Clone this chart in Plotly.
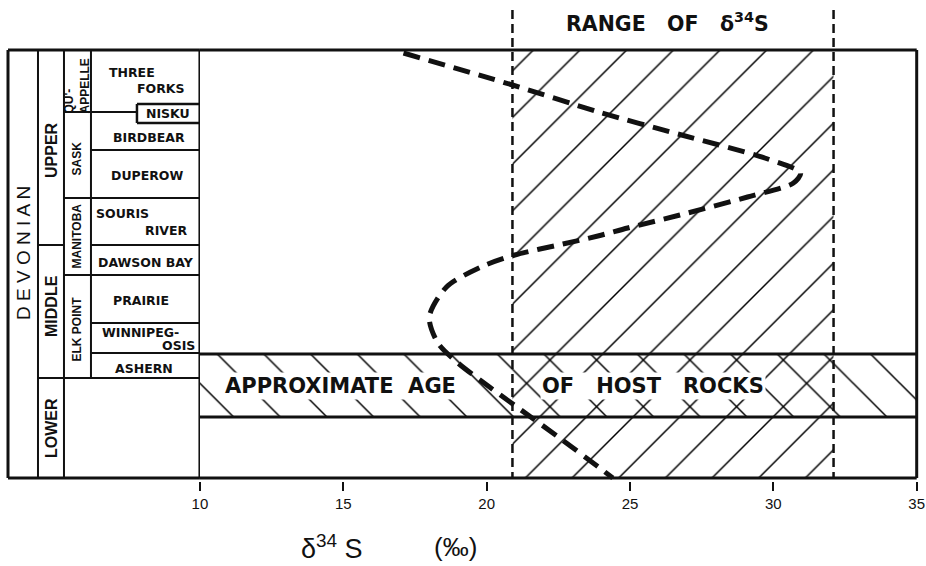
import plotly.graph_objects as go

# ---------------- data ----------------
# delta34S curve (per mil) vs. relative stratigraphic position (0 = top of column, 428 = base)
curve_d34s = [17.1, 20.9, 23.9, 26.8, 29.7, 30.95, 30.7, 29.1, 26.74, 24.92, 23.88, 22.66,
              20.98, 19.8, 18.6, 18.0, 18.3, 19.0, 20.1, 21.2, 22.5, 23.9, 24.4]
curve_pos = [3, 35, 62, 85, 108, 123, 133, 147, 165, 178, 186, 194,
             205, 217, 237, 267, 293, 313, 337, 360, 387, 417, 428]

range_d34s = [20.9, 32.1]          # range of delta34S in host rocks
age_band_pos = [304, 367]          # approximate age of host rocks (top, base)
x_ticks = [10, 15, 20, 25, 30, 35]
x_range = [10, 35]
col_top, col_base = 0, 428

# stratigraphic column
column_edges = [0, 30, 56, 83, 192]   # column boundaries (x2 units)
formations = ["THREE", "FORKS", "NISKU", "BIRDBEAR", "DUPEROW", "SOURIS", "RIVER",
              "DAWSON BAY", "PRAIRIE", "WINNIPEG-", "OSIS", "ASHERN"]
formation_x = [124.5, 152.5, 160, 141, 139, 114.5, 158.5, 138, 133, 133, 171, 136.5]
formation_y = [22, 38, 63, 87, 125, 163, 180, 212, 250, 282, 295, 318]
groups = ["QU'-<br>APPELLE", "SASK", "MANITOBA", "ELK POINT"]
group_y = [36, 108, 186, 279]
series = ["UPPER", "MIDDLE", "LOWER"]
series_y = [100, 256, 378]
system = "D E V O N I A N"
system_y = 203

BLACK = "#111111"
FONT = "Liberation Sans"
FONT_B = "DejaVu Sans"

fig = go.Figure()

# hatched range of d34S
fig.add_trace(go.Scatter(
    x=[range_d34s[0], range_d34s[1], range_d34s[1], range_d34s[0], range_d34s[0]],
    y=[col_top, col_top, col_base, col_base, col_top],
    mode="lines", line=dict(width=0), fill="toself", fillcolor="white",
    fillpattern=dict(shape="/", size=33, solidity=0.045, fgcolor="black", fgopacity=1,
                     bgcolor="white"),
    hoverinfo="skip", showlegend=False))
# hatched approximate age band
fig.add_trace(go.Scatter(
    x=[x_range[0], x_range[1], x_range[1], x_range[0], x_range[0]],
    y=[age_band_pos[0], age_band_pos[0], age_band_pos[1], age_band_pos[1], age_band_pos[0]],
    mode="lines", line=dict(width=0), fill="toself", fillcolor="rgba(255,255,255,0)",
    fillpattern=dict(shape="\\", size=33, solidity=0.045, fgcolor="black", fgopacity=1,
                     bgcolor="rgba(255,255,255,0)"),
    hoverinfo="skip", showlegend=False))
# age band borders
for yb in age_band_pos:
    fig.add_trace(go.Scatter(x=x_range, y=[yb, yb], mode="lines",
                             line=dict(color=BLACK, width=3), hoverinfo="skip", showlegend=False))
# dashed range limits
for xv in range_d34s:
    fig.add_trace(go.Scatter(x=[xv, xv], y=[-40, col_base], mode="lines",
                             line=dict(color=BLACK, width=2.5, dash="9px,5px"),
                             hoverinfo="skip", showlegend=False))
# d34S curve
fig.add_trace(go.Scatter(x=curve_d34s, y=curve_pos, mode="lines",
                         line=dict(color=BLACK, width=5, dash="17px,9px", shape="spline", smoothing=0.8),
                         hoverinfo="skip", showlegend=False))

# ---------------- frame and column lines ----------------
shapes = []
def seg(xref, x0, y0, x1, y1, w=2):
    shapes.append(dict(type="line", xref=xref, yref="y", x0=x0, y0=y0, x1=x1, y1=y1,
                       line=dict(color=BLACK, width=w), layer="above"))

# main frame
seg("x", x_range[0], col_top, x_range[1], col_top, 3)
seg("x", x_range[1], col_top, x_range[1], col_base, 3)
seg("x", x_range[0], col_base, x_range[1], col_base, 3)
# column frame
seg("x2", column_edges[0], col_top, column_edges[4], col_top, 3)
seg("x2", column_edges[0], col_base, column_edges[4], col_base, 3)
seg("x2", column_edges[0], col_top, column_edges[0], col_base, 3)
seg("x2", column_edges[4], col_top, column_edges[4], col_base, 3)
seg("x2", column_edges[1], col_top, column_edges[1], col_base)
seg("x2", column_edges[2], col_top, column_edges[2], col_base)
seg("x2", column_edges[3], col_top, column_edges[3], 328)
# horizontal boundaries
seg("x2", 56, 62, 129, 62)
seg("x2", 129, 54, 192, 54, 2.5)
seg("x2", 129, 73, 192, 73, 2.5)
seg("x2", 129, 54, 129, 73, 2.5)
seg("x2", 83, 100, 192, 100)
seg("x2", 56, 148, 192, 148)
seg("x2", 30, 195, 56, 195)
seg("x2", 83, 195, 192, 195)
seg("x2", 56, 225, 192, 225)
seg("x2", 83, 273, 192, 273)
seg("x2", 83, 303, 192, 303)
seg("x2", 30, 328, 192, 328)

# ---------------- text ----------------
ann = []
for t, xx, yy in zip(formations, formation_x, formation_y):
    ann.append(dict(xref="x2", yref="y", x=xx, y=yy, text="<b>" + t + "</b>", showarrow=False,
                    font=dict(family=FONT_B, size=12.5, color=BLACK), xanchor="center", yanchor="middle"))
for t, yy in zip(groups, group_y):
    ann.append(dict(xref="x2", yref="y", x=69.5, y=yy, text="<b>" + t + "</b>", showarrow=False,
                    textangle=-90, align="left", font=dict(family=FONT, size=12, color=BLACK)))
for t, yy in zip(series, series_y):
    ann.append(dict(xref="x2", yref="y", x=43, y=yy, text="<b>" + t + "</b>", showarrow=False,
                    textangle=-90, font=dict(family=FONT, size=16, color=BLACK)))
ann.append(dict(xref="x2", yref="y", x=15, y=system_y, text=system, showarrow=False, textangle=-90,
                font=dict(family=FONT, size=19, color=BLACK)))

ann.append(dict(xref="x", yref="y", x=14.9, y=335.5, text="<b>APPROXIMATE  AGE</b>", showarrow=False,
                bgcolor="white", borderpad=1, font=dict(family=FONT_B, size=21, color=BLACK)))
ann.append(dict(xref="x", yref="y", x=25.8, y=335.5, text="<b>OF   HOST   ROCKS</b>", showarrow=False,
                bgcolor="white", borderpad=1, font=dict(family=FONT_B, size=21, color=BLACK)))
ann.append(dict(xref="x", yref="y", x=26.3, y=-28, text="<b>RANGE   OF   δ<sup>34</sup>S</b>",
                showarrow=False, font=dict(family=FONT_B, size=20.5, color=BLACK)))
ann.append(dict(xref="x", yref="paper", x=14.6, y=-0.14, text="δ<sup>34</sup> S", showarrow=False,
                yanchor="middle", font=dict(family=FONT, size=27, color=BLACK)))
ann.append(dict(xref="x", yref="paper", x=18.9, y=-0.14, text="(‰)", showarrow=False,
                yanchor="middle", font=dict(family=FONT, size=26, color=BLACK)))

# ---------------- layout ----------------
W, H = 926, 566
L, R, T, B = 4, 4.7, 10, 85
plot_w = W - L - R
split = (200 - L) / plot_w

fig.update_layout(
    width=W, height=H, autosize=False,
    margin=dict(l=L, r=R, t=T, b=B, pad=0, autoexpand=False),
    paper_bgcolor="white", plot_bgcolor="white", showlegend=False,
    shapes=shapes, annotations=ann,
    xaxis=dict(domain=[split, 1], range=[x_range[0], 35.15], tickvals=x_ticks,
               ticktext=[str(v) for v in x_ticks], ticks="outside", ticklen=9, tickwidth=2,
               tickcolor=BLACK, showgrid=False, zeroline=False, showline=False, automargin=False,
               tickfont=dict(family=FONT, size=15, color=BLACK), anchor="y"),
    xaxis2=dict(domain=[0, split], range=[-4, 192], visible=False, anchor="y", automargin=False),
    yaxis=dict(range=[431, -40], visible=False, showgrid=False, zeroline=False, automargin=False),
)

fig.write_html("out.html", config={"displayModeBar": False},
               post_script="document.body.style.margin='0';document.body.style.overflow='hidden';")
